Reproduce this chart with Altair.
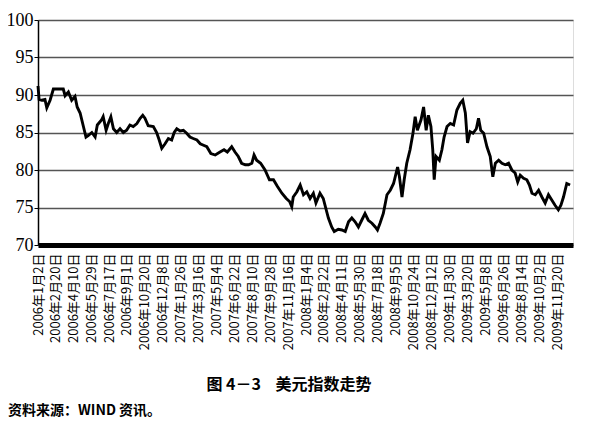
import altair as alt
import pandas as pd

# US Dollar Index readings
dates = [
    "2006-01-02", "2006-01-05", "2006-01-12", "2006-01-21", "2006-01-26", "2006-02-04",
    "2006-02-13", "2006-02-27", "2006-03-12", "2006-03-17", "2006-03-26", "2006-04-04",
    "2006-04-13", "2006-04-19", "2006-04-27", "2006-05-06", "2006-05-13", "2006-05-19",
    "2006-05-29", "2006-06-07", "2006-06-13", "2006-06-25", "2006-06-29", "2006-07-07",
    "2006-07-13", "2006-07-20", "2006-07-27", "2006-08-05", "2006-08-14", "2006-08-23",
    "2006-09-01", "2006-09-10", "2006-09-19", "2006-09-29", "2006-10-08", "2006-10-15",
    "2006-10-21", "2006-10-30", "2006-11-13", "2006-11-22", "2006-11-29", "2006-12-06",
    "2006-12-15", "2006-12-24", "2007-01-02", "2007-01-09", "2007-01-16", "2007-01-25",
    "2007-02-03", "2007-02-12", "2007-02-21", "2007-03-02", "2007-03-12", "2007-03-21",
    "2007-03-30", "2007-04-08", "2007-04-19", "2007-05-01", "2007-05-14", "2007-05-25",
    "2007-06-03", "2007-06-15", "2007-06-24", "2007-07-03", "2007-07-12", "2007-07-22",
    "2007-07-31", "2007-08-09", "2007-08-15", "2007-08-22", "2007-09-02", "2007-09-14",
    "2007-09-26", "2007-10-07", "2007-10-18", "2007-10-30", "2007-11-11", "2007-11-20",
    "2007-11-26", "2007-11-30", "2007-12-10", "2007-12-19", "2007-12-28", "2008-01-06",
    "2008-01-15", "2008-01-24", "2008-01-31", "2008-02-11", "2008-02-20", "2008-02-28",
    "2008-03-05", "2008-03-14", "2008-03-21", "2008-04-01", "2008-04-11", "2008-04-20",
    "2008-04-29", "2008-05-08", "2008-05-17", "2008-05-26", "2008-06-04", "2008-06-13",
    "2008-06-22", "2008-07-02", "2008-07-11", "2008-07-17", "2008-07-24", "2008-08-02",
    "2008-08-12", "2008-08-21", "2008-08-30", "2008-09-10", "2008-09-15", "2008-09-22",
    "2008-09-28", "2008-10-05", "2008-10-14", "2008-10-22", "2008-10-28", "2008-11-03",
    "2008-11-13", "2008-11-20", "2008-11-27", "2008-12-03", "2008-12-10", "2008-12-15",
    "2008-12-19", "2008-12-24", "2009-01-02", "2009-01-09", "2009-01-15", "2009-01-23",
    "2009-02-01", "2009-02-10", "2009-02-19", "2009-02-28", "2009-03-07", "2009-03-14",
    "2009-03-20", "2009-03-27", "2009-04-04", "2009-04-13", "2009-04-19", "2009-04-25",
    "2009-05-03", "2009-05-12", "2009-05-21", "2009-05-28", "2009-06-04", "2009-06-13",
    "2009-06-22", "2009-07-01", "2009-07-10", "2009-07-19", "2009-07-28", "2009-08-04",
    "2009-08-11", "2009-08-20", "2009-08-29", "2009-09-05", "2009-09-12", "2009-09-21",
    "2009-09-30", "2009-10-09", "2009-10-18", "2009-10-27", "2009-11-05", "2009-11-14",
    "2009-11-23", "2009-11-30", "2009-12-07", "2009-12-16", "2009-12-25",
]
values = [
    91.2, 89.4, 89.3, 89.4, 88.3, 89.3,
    90.8, 90.8, 90.8, 89.9, 90.4, 89.3,
    89.8, 88.4, 87.6, 85.8, 84.4, 84.6,
    85.0, 84.4, 86.0, 86.7, 87.1, 85.3,
    86.2, 87.1, 85.5, 85.0, 85.5, 85.0,
    85.3, 86.0, 85.8, 86.2, 86.9, 87.3,
    86.9, 85.9, 85.8, 85.0, 84.0, 82.9,
    83.5, 84.2, 84.0, 85.0, 85.5, 85.2,
    85.3, 84.9, 84.4, 84.2, 84.0, 83.5,
    83.3, 83.1, 82.2, 82.0, 82.4, 82.7,
    82.4, 83.1, 82.4, 81.8, 80.9, 80.7,
    80.7, 80.9, 82.0, 81.3, 80.9, 80.0,
    78.7, 78.7, 77.8, 76.9, 76.2, 75.8,
    75.1, 76.4, 77.1, 78.0, 76.7, 77.1,
    76.2, 76.9, 75.6, 76.9, 76.2, 74.7,
    73.6, 72.4, 71.8, 72.1, 72.0, 71.8,
    73.1, 73.6, 73.1, 72.4, 73.3, 74.2,
    73.3, 72.9, 72.4, 72.0, 72.9, 74.2,
    76.7, 77.3, 78.2, 80.4, 79.1, 76.4,
    78.7, 80.9, 82.7, 84.9, 87.1, 85.3,
    86.7, 88.4, 85.3, 87.3, 85.8, 82.7,
    78.7, 81.8, 81.3, 82.7, 84.4, 85.8,
    86.2, 86.0, 88.0, 88.9, 89.3, 87.6,
    83.6, 85.1, 84.9, 85.5, 86.9, 85.3,
    84.9, 83.1, 81.8, 79.1, 80.9, 81.3,
    80.9, 80.7, 80.9, 80.0, 79.6, 78.4,
    79.3, 78.9, 78.7, 78.0, 76.9, 76.7,
    77.3, 76.4, 75.6, 76.7, 76.0, 75.3,
    74.7, 75.3, 76.4, 78.2, 78.0,
]

tick_dates = [
    "2006-01-02", "2006-02-20", "2006-04-10", "2006-05-29", "2006-07-17", "2006-09-01",
    "2006-10-20", "2006-12-08", "2007-01-26", "2007-03-16", "2007-05-04", "2007-06-22",
    "2007-08-10", "2007-09-28", "2007-11-16", "2008-01-04", "2008-02-22", "2008-04-11",
    "2008-05-30", "2008-07-18", "2008-09-05", "2008-10-24", "2008-12-12", "2009-01-30",
    "2009-03-20", "2009-05-08", "2009-06-26", "2009-08-14", "2009-10-02", "2009-11-20",
]
x_domain = ["2006-01-02", "2010-01-02"]
y_ticks = [70, 75, 80, 85, 90, 95, 100]

caption = ["图 4－3\u00a0\u00a0\u00a0\u00a0美元指数走势"]
source = ["资料来源：WIND 资讯。"]

df = pd.DataFrame({"date": dates, "value": values})


def dt(s):
    y, m, d = (int(p) for p in s.split("-"))
    return alt.DateTime(year=y, month=m, date=d, utc=True)


W, H = 535, 225

line = alt.Chart(df).mark_line(color="black", strokeWidth=2.9, strokeJoin="miter").encode(
    x=alt.X(
        "date:T",
        scale=alt.Scale(type="utc", domain=[dt(s) for s in x_domain]),
        axis=alt.Axis(
            values=[dt(s) for s in tick_dates],
            labelExpr="utcFormat(datum.value, '%Y年%-m月%-d日')",
            labelAngle=-90,
            labelAlign="right",
            labelBaseline="middle",
            labelFont="Noto Sans CJK SC",
            labelFontSize=13,
            labelColor="black",
            labelOverlap=False,
            labelBound=False,
            labelFlush=False,
            labelPadding=8,
            ticks=False,
            tickSize=0,
            grid=False,
            domainColor="black",
            domainWidth=5,
            title=None,
        ),
    ),
    y=alt.Y(
        "value:Q",
        scale=alt.Scale(domain=[70, 100], nice=False, zero=False),
        axis=alt.Axis(
            values=y_ticks,
            labelFont="Liberation Serif",
            labelFontSize=18,
            labelColor="black",
            labelPadding=1,
            tickSize=4,
            tickColor="black",
            domainColor="black",
            domainWidth=1.5,
            grid=True,
            gridColor="#555555",
            gridWidth=1.6,
            title=None,
        ),
    ),
)

cap = alt.Chart(pd.DataFrame({"t": caption})).mark_text(
    font="Noto Sans CJK SC", fontSize=16, fontWeight="bold", align="center",
    baseline="middle", color="black",
).encode(text="t:N", x=alt.value(251), y=alt.value(365))

src = alt.Chart(pd.DataFrame({"t": source})).mark_text(
    font="Noto Sans CJK SC", fontSize=14, fontWeight="bold", align="left",
    baseline="middle", color="black",
).encode(text="t:N", x=alt.value(-30), y=alt.value(391))

chart = alt.layer(line, cap, src).properties(
    width=W, height=H,
    autosize=alt.AutoSizeParams(type="none"),
    padding={"left": 30, "top": 12, "right": 12, "bottom": 175},
).configure_view(stroke=None).configure(background="white")

chart.save("out.html", embed_options={"renderer": "svg", "actions": False})
